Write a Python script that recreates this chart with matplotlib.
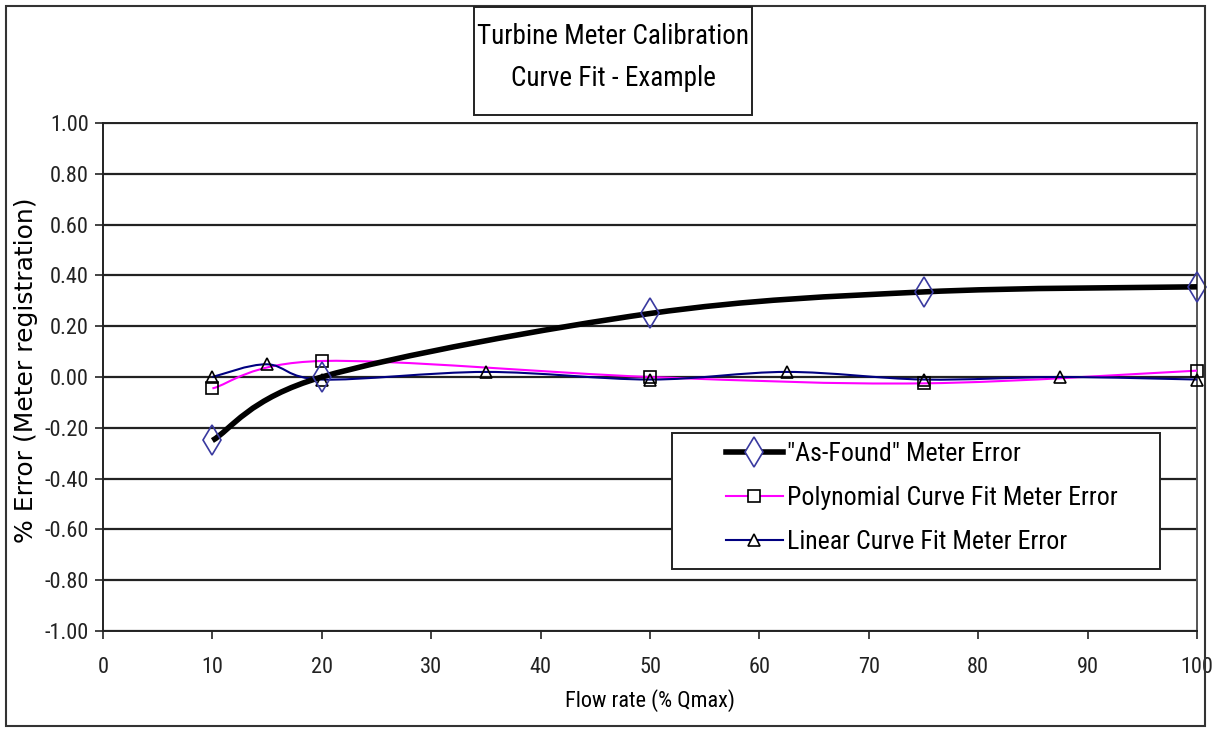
import numpy as np
import matplotlib.pyplot as plt
from matplotlib import font_manager
from matplotlib.path import Path
from matplotlib.patches import PathPatch, Rectangle
from matplotlib.lines import Line2D

# look for a narrow sans face (chart was made with Arial Narrow)
fonts = font_manager.fontManager.ttflist
names = {f.name for f in fonts}
cond = {f.name for f in fonts if str(f.stretch) in ('condensed', 'semi-condensed', 'extra-condensed')}
narrow = None
for n in ['Liberation Sans Narrow', 'Arial Narrow', 'Roboto Condensed', 'Noto Sans Condensed',
          'Open Sans Condensed', 'DejaVu Sans Condensed']:
    if n in names:
        narrow = (n, 'normal')
        break
if narrow is None:
    for n in ['Roboto', 'Noto Sans', 'DejaVu Sans', 'Open Sans']:
        if n in cond:
            narrow = (n, 'condensed')
            break
if narrow is None:
    narrow = ('Liberation Sans', 'normal')
    scale = 0.88
else:
    scale = 1.0

plt.rcParams['font.family'] = [narrow[0], 'DejaVu Sans']
plt.rcParams['font.stretch'] = narrow[1]

# values
found_x = [10, 20, 50, 75, 100]
found_y = [-0.25, 0.00, 0.25, 0.335, 0.355]

poly_x = [10, 20, 50, 75, 100]
poly_y = [-0.045, 0.063, 0.0, -0.025, 0.025]

lin_x = [10, 15, 20, 35, 50, 62.5, 75, 87.5, 100]
lin_y = [0.0, 0.05, -0.01, 0.02, -0.01, 0.02, -0.01, 0.0, -0.01]

x_ticks = list(range(0, 101, 10))
y_ticks = [-1.0, -0.8, -0.6, -0.4, -0.2, 0.0, 0.2, 0.4, 0.6, 0.8, 1.0]


def smooth_path(xs, ys):
    # excel style smoothed line: bezier segments with catmull-rom control points
    p = np.column_stack([xs, ys]).astype(float)
    n = len(p)
    verts = [p[0]]
    codes = [Path.MOVETO]
    for i in range(n - 1):
        p0 = p[i - 1] if i > 0 else p[i]
        p1 = p[i]
        p2 = p[i + 1]
        p3 = p[i + 2] if i + 2 < n else p[i + 1]
        c1 = p1 + (p2 - p0) / 6.0
        c2 = p2 - (p3 - p1) / 6.0
        verts += [c1, c2, p2]
        codes += [Path.CURVE4] * 3
    return Path(verts, codes)


W, H = 1217, 730
fig = plt.figure(figsize=(W / 100, H / 100), dpi=100)
ax = fig.add_axes([103 / W, 99 / H, 1094 / W, 508 / H])

# outer chart frame
fig.patches.append(Rectangle((6 / W, 4 / H), 1199 / W, 720 / H,
                             transform=fig.transFigure, fill=False,
                             edgecolor='#333333', lw=1.5))

ax.set_xlim(0, 100)
ax.set_ylim(-1, 1)
ax.set_xticks(x_ticks)
ax.set_yticks(y_ticks)
ax.set_yticklabels(['%.2f' % v for v in y_ticks])
ax.tick_params(axis='both', direction='out', length=6, width=1.2,
               labelsize=16 * scale, colors='#222222')
ax.tick_params(axis='x', pad=13)
ax.tick_params(axis='y', pad=4)
ax.grid(axis='y', color='#222222', lw=1.6)
ax.set_axisbelow(True)
for s in ax.spines.values():
    s.set_color('#222222')
    s.set_linewidth(1.4)
ax.spines['right'].set_color('#555555')

ax.add_patch(PathPatch(smooth_path(poly_x, poly_y), fill=False,
                       edgecolor='#ff00ff', lw=1.5, zorder=3))
ax.add_patch(PathPatch(smooth_path(lin_x, lin_y), fill=False,
                       edgecolor='#000080', lw=1.5, zorder=3))
ax.add_patch(PathPatch(smooth_path(found_x, found_y), fill=False,
                       edgecolor='black', lw=4, zorder=4))

ax.plot(poly_x, poly_y, ls='none', marker='s', ms=8, mfc='none',
        mec='black', mew=1.2, zorder=5, clip_on=False)
ax.plot(lin_x, lin_y, ls='none', marker='^', ms=9, mfc='none',
        mec='black', mew=1.2, zorder=5, clip_on=False)
ax.plot(found_x, found_y, ls='none', marker='d', ms=15, mfc='none',
        mec='#3a3aa0', mew=1.2, zorder=6, clip_on=False)

ax.set_xlabel('Flow rate (% Qmax)', fontsize=16 * scale, labelpad=8)
ax.set_ylabel('% Error (Meter registration)', fontsize=18,
              family=['DejaVu Sans'], stretch='normal')
ax.yaxis.set_label_coords(-(103 - 38) / 1094, (631 - 370) / 508)

# title box
fig.patches.append(Rectangle((474 / W, 1 - 115 / H), 278 / W, 108 / H,
                             transform=fig.transFigure, fc='white',
                             ec='#222222', lw=1.4))
fig.text(613 / W, 1 - 36 / H, 'Turbine Meter Calibration', ha='center',
         va='center', fontsize=19.5 * scale)
fig.text(613 / W, 1 - 79 / H, 'Curve Fit - Example', ha='center',
         va='center', fontsize=19.5 * scale)

# legend box
ax.add_patch(Rectangle(((672 - 103) / 1094, (631 - 569) / 508), 488 / 1094,
                       136 / 508, transform=ax.transAxes, fc='white',
                       ec='#222222', lw=1.4, zorder=9))
handles = [
    Line2D([], [], color='black', lw=4, marker='d', ms=15, mfc='white',
           mec='#3a3aa0', mew=1.2),
    Line2D([], [], color='#ff00ff', lw=1.5, marker='s', ms=8, mfc='white',
           mec='black', mew=1.2),
    Line2D([], [], color='#000080', lw=1.5, marker='^', ms=9, mfc='white',
           mec='black', mew=1.2),
]
labels = ['"As-Found" Meter Error', 'Polynomial Curve Fit Meter Error',
          'Linear Curve Fit Meter Error']
leg = ax.legend(handles, labels, loc='upper left',
                bbox_to_anchor=((717 - 103) / 1094, (631 - 433) / 508),
                fontsize=18.6 * scale, frameon=False, handlelength=2.2,
                handletextpad=0.15, borderpad=0.35, labelspacing=0.78,
                borderaxespad=0)
leg.set_zorder(10)

fig.savefig('out.png', dpi=100, facecolor='white')
